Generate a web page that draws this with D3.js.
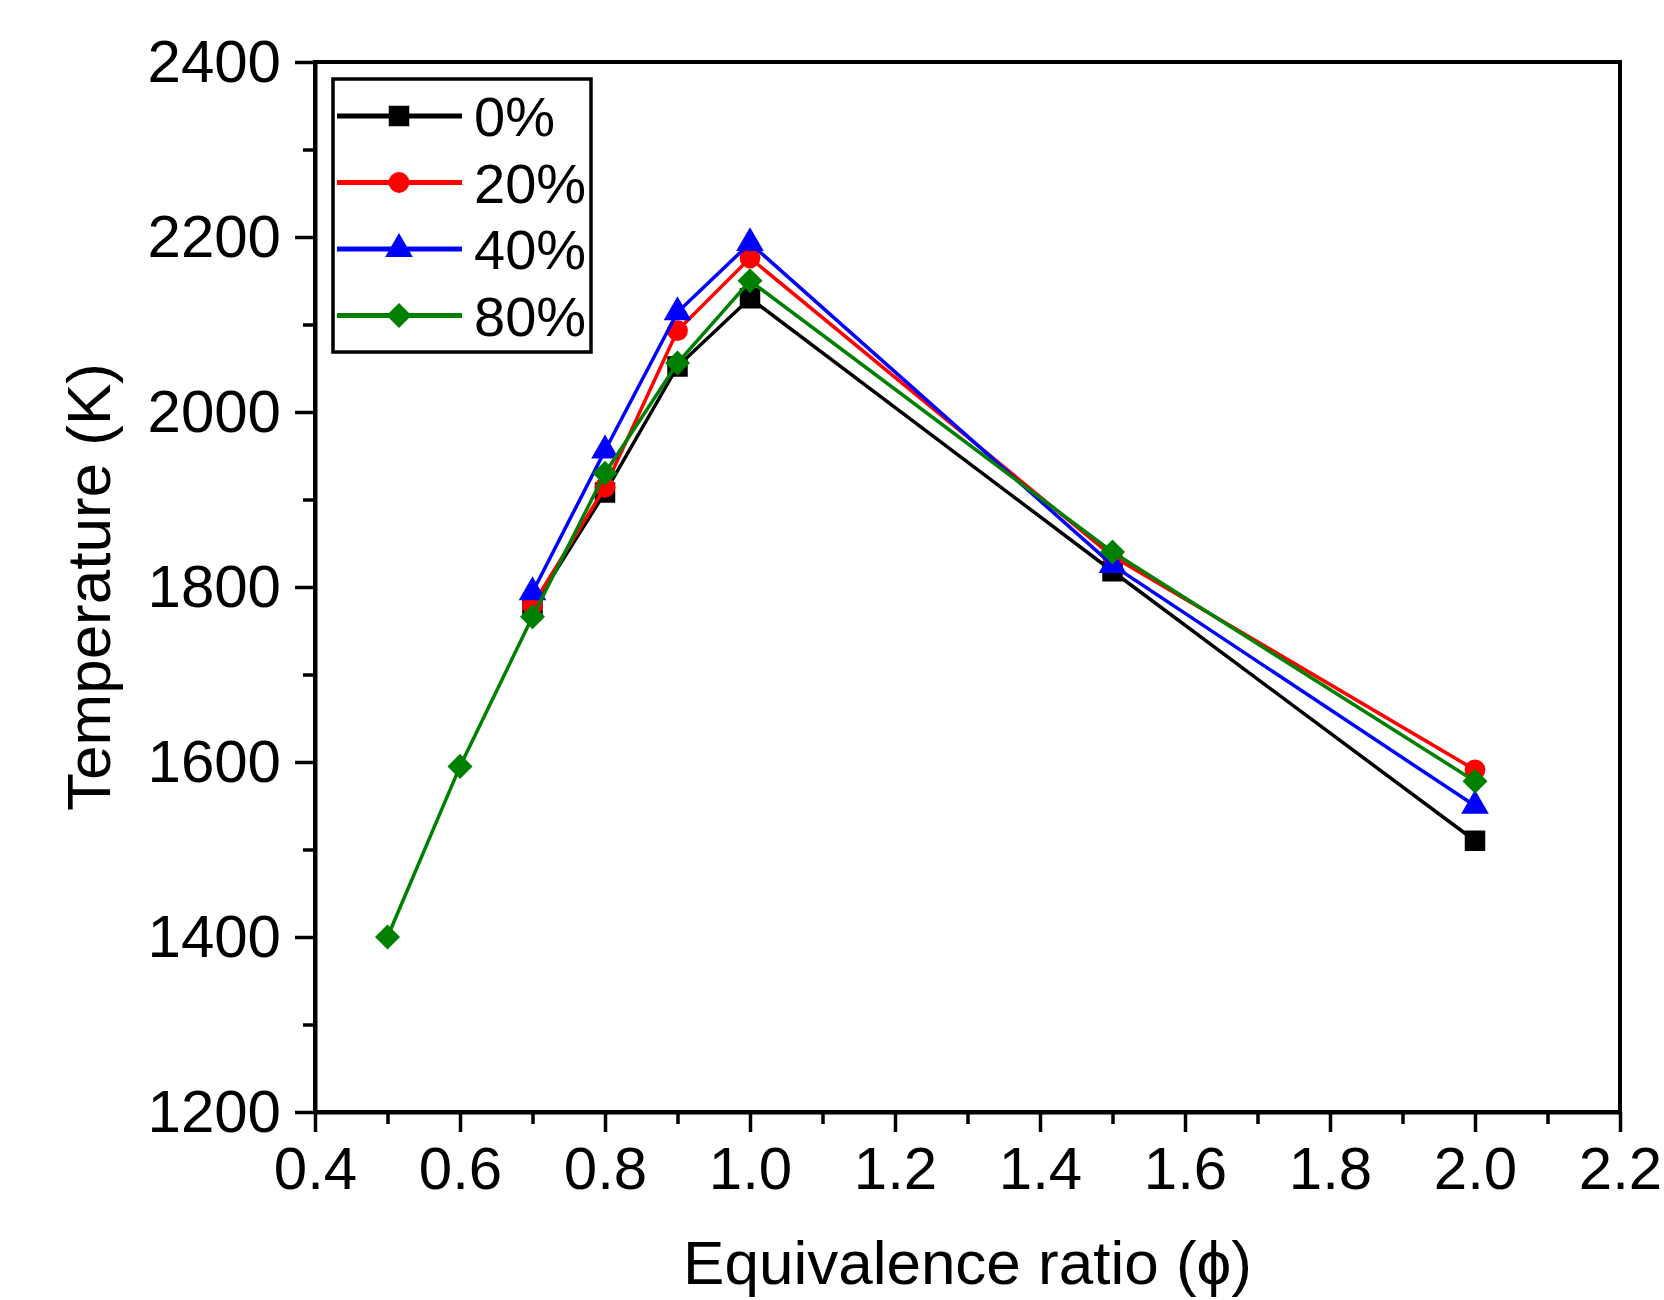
<!DOCTYPE html>
<html>
<head>
<meta charset="utf-8">
<script src="https://cdn.jsdelivr.net/npm/d3@7"></script>
<style>
  html, body { margin: 0; padding: 0; background: #fff; }
  svg { display: block; }
  text { font-family: "Liberation Sans", Arial, sans-serif; fill: #000; }
</style>
</head>
<body>
<svg id="chart" width="1664" height="1300"></svg>
<script>
// Adiabatic flame temperature vs. equivalence ratio
const phi = [0.5, 0.6, 0.7, 0.8, 0.9, 1.0, 1.5, 2.0];
const seriesNames = ["0%", "20%", "40%", "80%"];
// null = no computed point at that equivalence ratio
const temp0  = [null, null, 1776, 1908, 2052, 2130, 1818, 1510];
const temp20 = [null, null, 1779, 1914, 2093, 2176, 1835, 1591];
const temp40 = [null, null, 1794, 1956, 2114, 2193, 1825, 1550];
const temp80 = [1400, 1595, 1766, 1930, 2056, 2150, 1840, 1578];
const xTicks = [0.4, 0.6, 0.8, 1.0, 1.2, 1.4, 1.6, 1.8, 2.0, 2.2];
const yTicks = [1200, 1400, 1600, 1800, 2000, 2200, 2400];

const colors = ["#000000", "#ff0000", "#0000ff", "#008000"];
const symbols = [d3.symbolSquare, d3.symbolCircle, d3.symbolTriangle, d3.symbolDiamond2];
const symSizes = [420, 340, 330, 400];
const allTemps = [temp0, temp20, temp40, temp80];

const svg = d3.select("#chart");
const m = { left: 315, right: 1620, top: 62, bottom: 1112 };

const x = d3.scaleLinear().domain([0.4, 2.2]).range([m.left, m.right]);
const y = d3.scaleLinear().domain([1200, 2400]).range([m.bottom, m.top]);

// Minor ticks
const xMinor = d3.range(0.5, 2.2, 0.2);
const yMinor = d3.range(1300, 2400, 200);

svg.append("g").attr("transform", `translate(0,${m.bottom})`)
  .call(d3.axisBottom(x).tickValues(xTicks).tickFormat(d3.format(".1f"))
    .tickSize(20).tickSizeOuter(0).tickPadding(14));
svg.append("g").attr("transform", `translate(0,${m.bottom})`)
  .call(d3.axisBottom(x).tickValues(xMinor).tickFormat("").tickSize(12).tickSizeOuter(0))
  .call(g => g.select(".domain").remove());

svg.append("g").attr("transform", `translate(${m.left},0)`)
  .call(d3.axisLeft(y).tickValues(yTicks).tickFormat(d3.format("d"))
    .tickSize(20).tickSizeOuter(0).tickPadding(14));
svg.append("g").attr("transform", `translate(${m.left},0)`)
  .call(d3.axisLeft(y).tickValues(yMinor).tickFormat("").tickSize(12).tickSizeOuter(0))
  .call(g => g.select(".domain").remove());

svg.selectAll(".tick line").attr("stroke", "#000").attr("stroke-width", 3.5);
svg.selectAll(".domain").attr("stroke", "#000").attr("stroke-width", 4);
svg.selectAll(".tick text").style("font-size", "60px")
  .style("font-family", "'Liberation Sans', Arial, sans-serif").attr("fill", "#000");

// Frame on top and right
svg.append("rect")
  .attr("x", m.left).attr("y", m.top)
  .attr("width", m.right - m.left).attr("height", m.bottom - m.top)
  .attr("fill", "none").attr("stroke", "#000").attr("stroke-width", 4);

// Axis titles
svg.append("text")
  .attr("x", (m.left + m.right) / 2).attr("y", 1284)
  .attr("text-anchor", "middle").style("font-size", "62px")
  .text("Equivalence ratio (\u03D5)");
svg.append("text")
  .attr("transform", `translate(110,${(m.top + m.bottom) / 2}) rotate(-90)`)
  .attr("text-anchor", "middle").style("font-size", "62px")
  .text("Temperature (K)");

// Series lines and markers
const line = d3.line().defined(d => d[1] != null).x(d => x(d[0])).y(d => y(d[1]));
allTemps.forEach((vals, i) => {
  const pts = phi.map((p, j) => [p, vals[j]]).filter(d => d[1] != null);
  svg.append("path").datum(pts)
    .attr("d", line).attr("fill", "none")
    .attr("stroke", colors[i]).attr("stroke-width", 3.5);
  svg.append("g").selectAll("path").data(pts).join("path")
    .attr("transform", d => `translate(${x(d[0])},${y(d[1])})`)
    .attr("d", d3.symbol().type(symbols[i]).size(symSizes[i]))
    .attr("fill", colors[i]);
});

// Legend
const lg = svg.append("g");
lg.append("rect")
  .attr("x", 333).attr("y", 79).attr("width", 258).attr("height", 273)
  .attr("fill", "#fff").attr("stroke", "#000").attr("stroke-width", 3.5);
seriesNames.forEach((name, i) => {
  const cy = 116 + i * 66.5;
  lg.append("line").attr("x1", 337).attr("x2", 462).attr("y1", cy).attr("y2", cy)
    .attr("stroke", colors[i]).attr("stroke-width", 5);
  lg.append("path").attr("transform", `translate(399,${cy})`)
    .attr("d", d3.symbol().type(symbols[i]).size(symSizes[i])).attr("fill", colors[i]);
  lg.append("text").attr("x", 474).attr("y", cy + 20)
    .style("font-size", "56px").text(name);
});
</script>
</body>
</html>
